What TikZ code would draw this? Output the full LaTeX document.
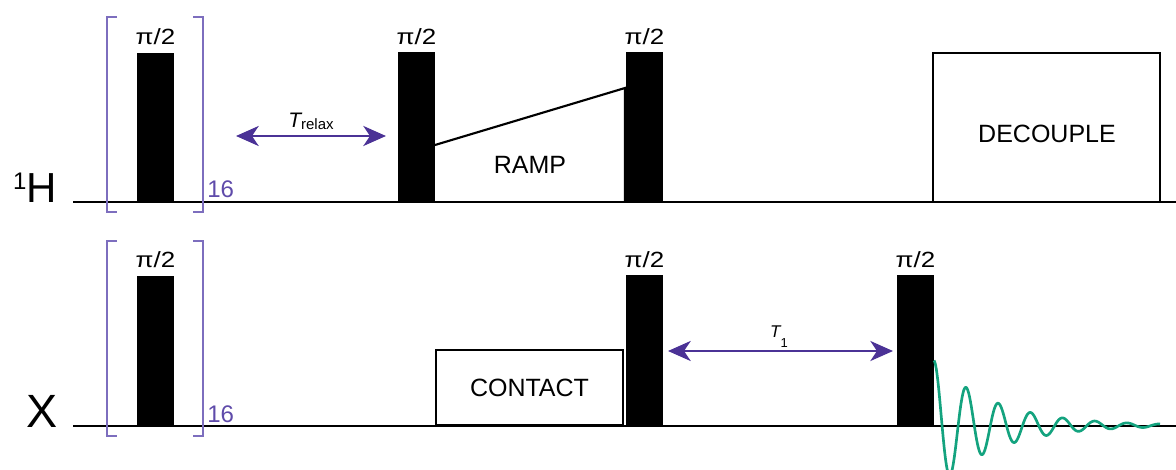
\documentclass[tikz,border=0pt]{standalone}
\usepackage{fontspec}
\usepackage{graphicx}
\setmainfont{Liberation Sans}
\usetikzlibrary{arrows.meta,fit}
\definecolor{brkc}{RGB}{125,110,190}
\definecolor{numc}{RGB}{95,75,170}
\definecolor{arrc}{RGB}{75,50,150}
\definecolor{fidc}{RGB}{20,163,127}
\newcommand{\pihalf}{\scalebox{1.18}[1]{π/2}}
\begin{document}
\begin{tikzpicture}[x=0.75pt,y=-0.75pt,
  baseline/.style={line width=1.5pt, black},
  pulse/.style={fill=black, inner sep=0pt, outer sep=0pt},
  box/.style={draw=black, line width=1.6pt, inner sep=0pt, outer sep=0pt},
  boxtext/.style={inner sep=0pt, font=\fontsize{18.75}{19}\selectfont},
  bracket/.style={draw=brkc, line width=0.9pt},
  delay/.style={draw=arrc, line width=2pt,
    {Stealth[length=17pt,width=15pt,inset=5pt]}-{Stealth[length=17pt,width=15pt,inset=5pt]}},
  angle/.style={inner sep=0pt, anchor=base, font=\fontsize{16.5}{17}\selectfont},
  reps/.style={inner sep=0pt, anchor=base west, text=numc, font=\fontsize{18}{18}\selectfont},
  fid/.style={draw=fidc, line width=2pt, line join=round}]
\useasboundingbox (0,0) rectangle (1176,470);

% channel baselines
\coordinate (hs) at (73,202);
\coordinate (he) at (1176,202);
\coordinate (xs) at (73,425.5);
\coordinate (xe) at (1176,425.5);
\draw[baseline] (hs) -- (he);
\draw[baseline] (xs) -- (xe);

% channel labels
\node[anchor=base east, inner sep=0pt] (hlab) at (57,203)
  {\raisebox{9.75pt}{\fontsize{18}{18}\selectfont 1}\fontsize{31.5}{32}\selectfont H};
\node[anchor=base east, inner sep=0pt] (xlab) at (58,427)
  {\fontsize{35}{35}\selectfont X};

% 1H pulses
\node[pulse, fit={(137,53) (174,202)}] (hp1) {};
\node[pulse, fit={(398,52) (435,202)}] (hp2) {};
\node[pulse, fit={(626,52) (663,202)}] (hp3) {};
\node[angle] (ha1) at (155.5,44.5) {\pihalf};
\node[angle] (ha2) at (416.5,44.5) {\pihalf};
\node[angle] (ha3) at (644.5,44.5) {\pihalf};

% ramp
\coordinate (r1) at (435,145);
\coordinate (r2) at (625,88);
\coordinate (r3) at (625,202);
\draw[line width=1.6pt] (r1) -- (r2) -- (r3);
\node[boxtext] (ramp) at (530,165) {RAMP};

% decouple
\node[box, fit={(933,53) (1160,202)}] (dec) {};
\node[boxtext] (dect) at (1047,134) {DECOUPLE};

% X pulses
\node[pulse, fit={(137,276) (174,425.5)}] (xp1) {};
\node[pulse, fit={(626,275) (663,425.5)}] (xp2) {};
\node[pulse, fit={(897,275) (934,425.5)}] (xp3) {};
\node[angle] (xa1) at (155.5,267.5) {\pihalf};
\node[angle] (xa2) at (644.5,267.5) {\pihalf};
\node[angle] (xa3) at (915.5,267.5) {\pihalf};

% contact
\node[box, fit={(436,350) (623,425.5)}] (con) {};
\node[boxtext] (cont) at (529.5,388) {CONTACT};

% repetition brackets
\draw[bracket] (117,17) -- (107,17) -- (107,212) -- (117,212);
\draw[bracket] (193,17) -- (203,17) -- (203,212) -- (193,212);
\draw[bracket] (117,241) -- (107,241) -- (107,436) -- (117,436);
\draw[bracket] (193,241) -- (203,241) -- (203,436) -- (193,436);
\node[reps] (n1) at (207,198) {16};
\node[reps] (n2) at (207,422) {16};

% delays
\coordinate (d1a) at (236,136);
\coordinate (d1b) at (386,136);
\draw[delay] (d1a) -- (d1b);
\node[anchor=base, inner sep=0pt] (trl) at (311,128)
  {\fontsize{15.75}{16}\selectfont\itshape T\upshape\raisebox{-1.5pt}{\fontsize{11.25}{12}\selectfont relax}};
\coordinate (d2a) at (668,351);
\coordinate (d2b) at (893,351);
\draw[delay] (d2a) -- (d2b);
\node[anchor=base, inner sep=0pt] (t1) at (779,337)
  {\fontsize{12.75}{13}\selectfont\itshape T\upshape\raisebox{-7.5pt}{\fontsize{9.75}{10}\selectfont 1}};

% FID
\draw[fid] plot[domain=0:226, samples=400, smooth]
  ({934+\x}, {425.5-65*exp(-\x/60)*cos(\x*11.18)});
\end{tikzpicture}
\end{document}
